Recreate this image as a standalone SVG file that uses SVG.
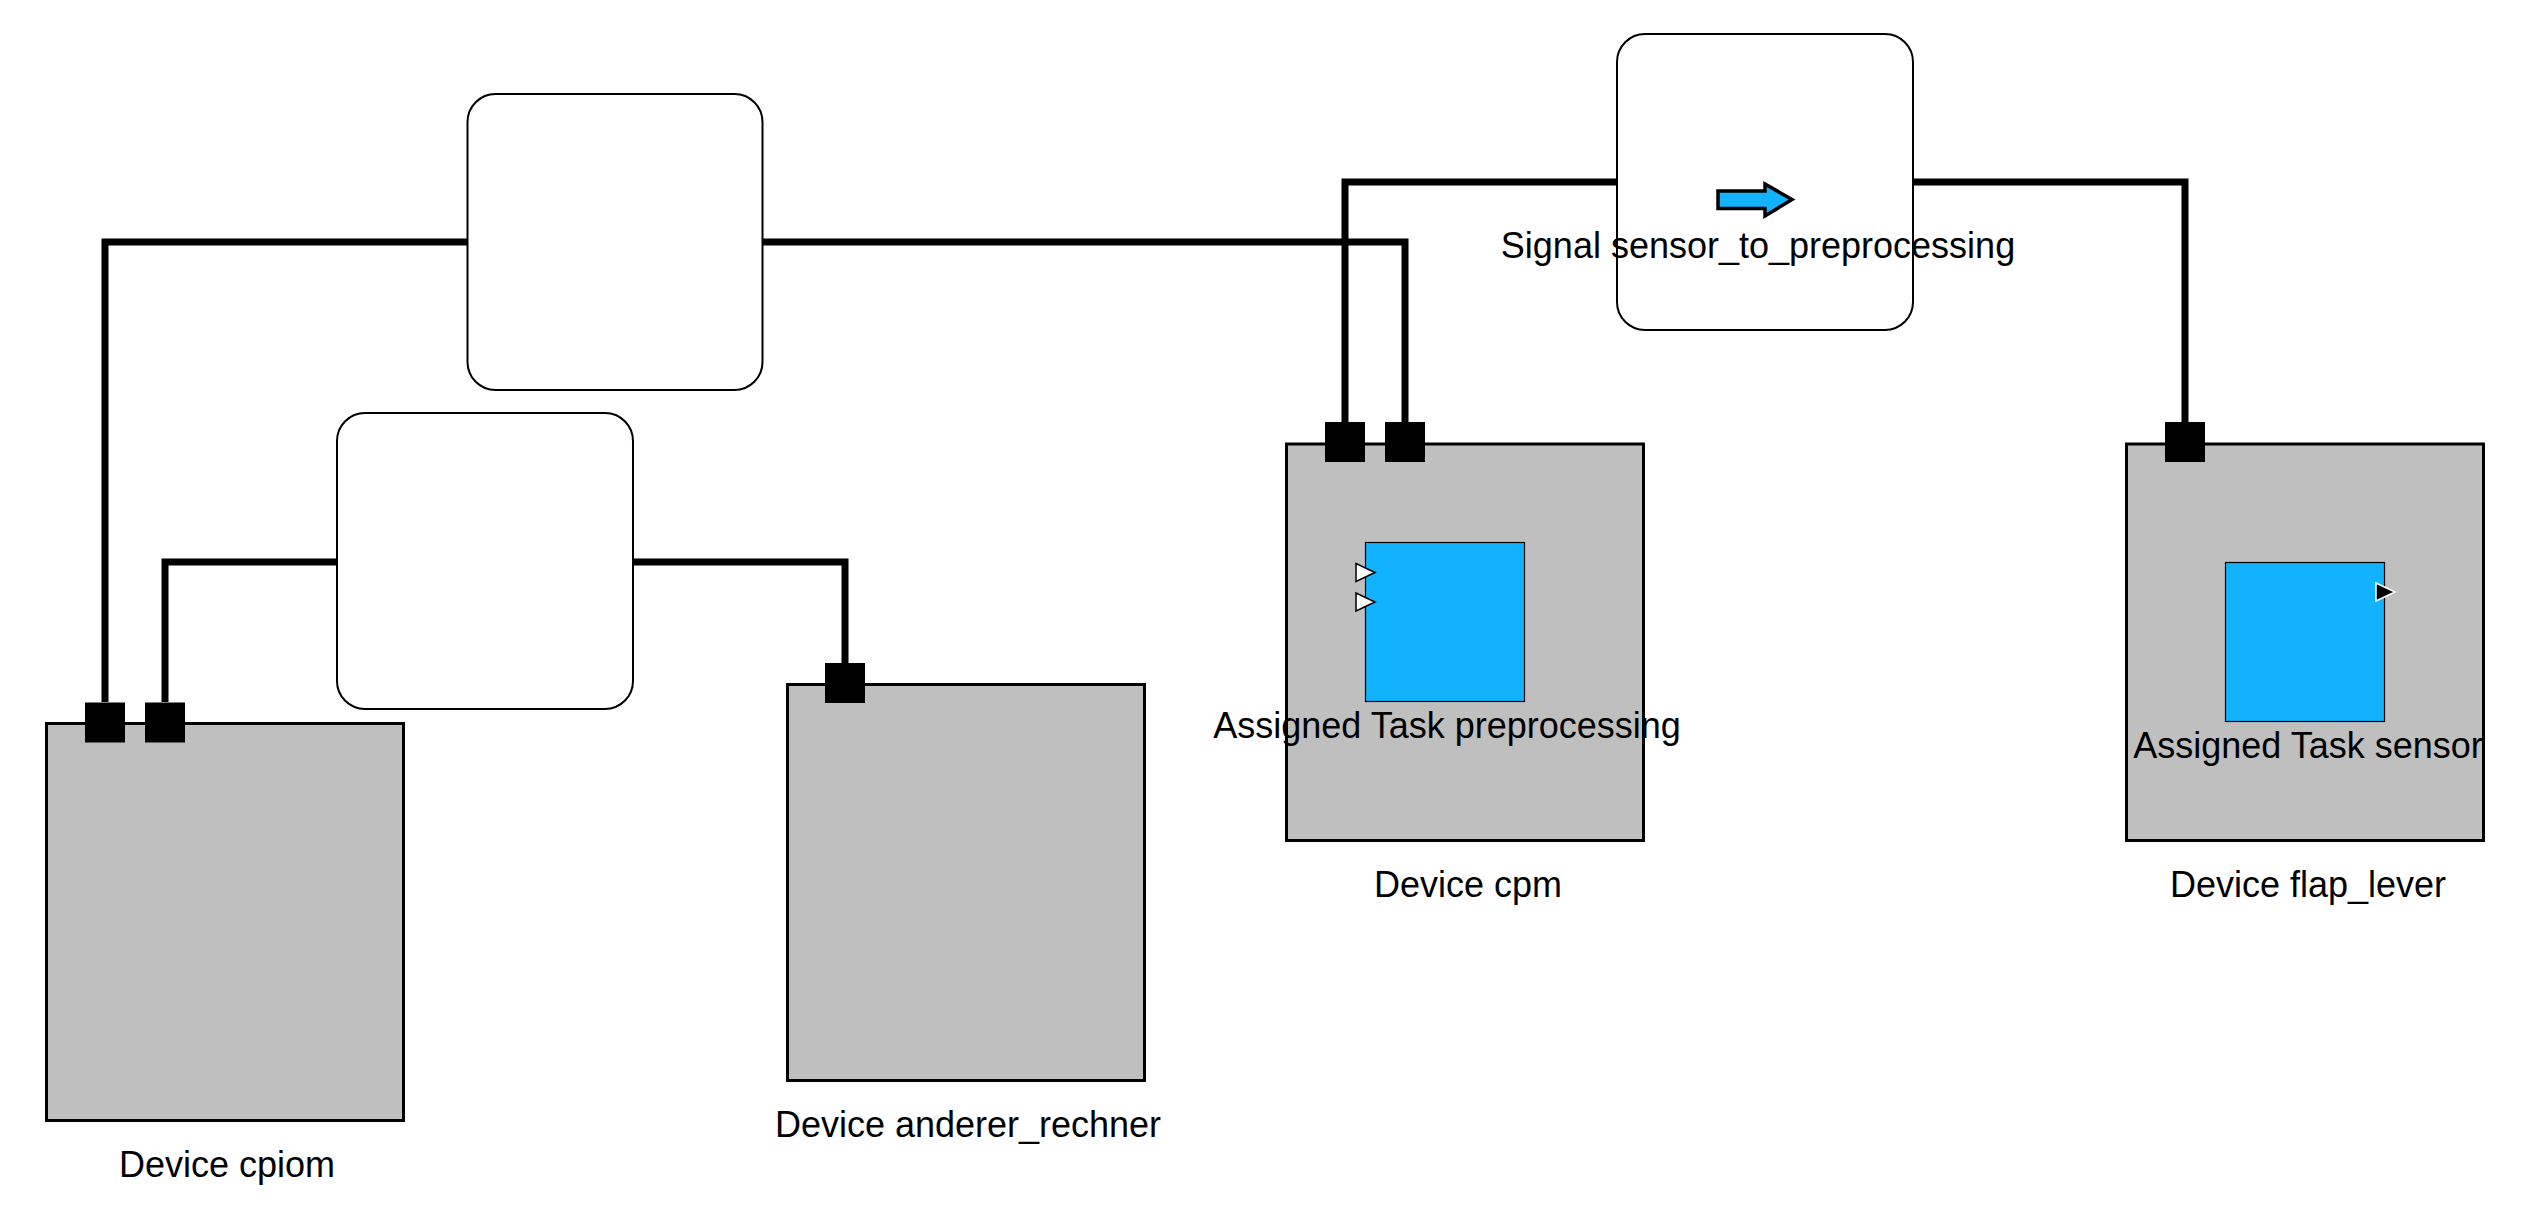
<svg xmlns="http://www.w3.org/2000/svg" width="2538" height="1227" viewBox="0 0 2538 1227">
<style>
.dev{fill:#BFBFBF;stroke:#000;stroke-width:3}
.port{fill:#000}
.bus{fill:#fff;stroke:#000;stroke-width:2}
.task{fill:#12B2FF;stroke:#000;stroke-width:1.2}
.conn{fill:none;stroke:#000;stroke-width:7;stroke-linejoin:miter}
.lbl{font-family:"Liberation Sans",Arial,sans-serif;font-size:36px;fill:#000;text-anchor:middle}
.pin{fill:#fff;stroke:#000;stroke-width:1.5}
.pout{fill:#000;stroke:#fff;stroke-width:1.5}
</style>
<rect width="2538" height="1227" fill="#fff"/>
<g id="connectors">
<polyline class="conn" points="105,702 105,242 1405,242 1405,422"/>
<polyline class="conn" points="165,702 165,562 845,562 845,663"/>
<polyline class="conn" points="1345,422 1345,182 2185,182 2185,422"/>
</g>
<g id="device-cpiom">
<rect class="dev" x="46.5" y="723.5" width="357" height="397"/>
<rect class="port" x="85" y="702.5" width="40" height="40"/>
<rect class="port" x="145" y="702.5" width="40" height="40"/>
<text class="lbl" x="227" y="1177">Device cpiom</text>
</g>
<g id="device-anderer_rechner">
<rect class="dev" x="787.5" y="684.5" width="357" height="396"/>
<rect class="port" x="825" y="663" width="40" height="40"/>
<text class="lbl" x="968" y="1137">Device anderer_rechner</text>
</g>
<g id="device-cpm">
<rect class="dev" x="1286.5" y="444" width="357" height="396.5"/>
<rect class="port" x="1325" y="422" width="40" height="40"/>
<rect class="port" x="1385" y="422" width="40" height="40"/>
<text class="lbl" x="1468" y="897">Device cpm</text>
</g>
<g id="task-preprocessing">
<rect class="task" x="1365.5" y="542.5" width="159" height="159"/>
<polygon class="pin" points="1356,563.5 1375,572.5 1356,581.5"/>
<polygon class="pin" points="1356,593 1375,602 1356,611"/>
<text class="lbl" x="1447" y="737.5">Assigned Task preprocessing</text>
</g>
<g id="device-flap_lever">
<rect class="dev" x="2126.5" y="444" width="357" height="396.5"/>
<rect class="port" x="2165" y="422" width="40" height="40"/>
<text class="lbl" x="2308" y="897">Device flap_lever</text>
</g>
<g id="task-sensor">
<rect class="task" x="2225.5" y="562.5" width="159" height="159"/>
<polygon class="pout" points="2376,583 2395,592 2376,601"/>
<text class="lbl" x="2308" y="757.5">Assigned Task sensor</text>
</g>
<g id="channel-top">
<rect class="bus" x="467.5" y="94" width="295" height="296" rx="28" ry="28"/>
</g>
<g id="channel-middle">
<rect class="bus" x="337" y="413" width="296" height="296" rx="28" ry="28"/>
</g>
<g id="signal-sensor_to_preprocessing">
<rect class="bus" x="1617" y="34" width="296" height="296" rx="28" ry="28"/>
<polygon points="1718,191 1765,191 1765,184 1792,199.5 1765,216 1765,208.5 1718,208.5" fill="#12B2FF" stroke="#000" stroke-width="3.5" stroke-linejoin="miter"/>
<text class="lbl" x="1758" y="257.5">Signal sensor_to_preprocessing</text>
</g>
</svg>
